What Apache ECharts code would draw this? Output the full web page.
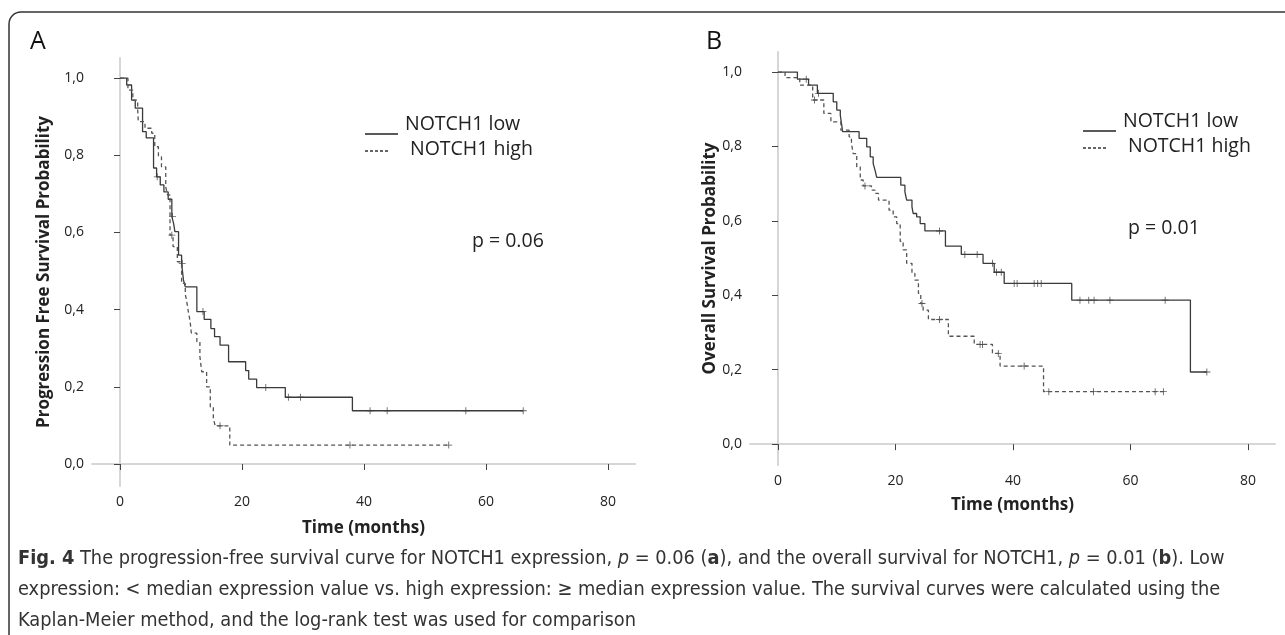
<!DOCTYPE html>
<html>
<head>
<meta charset="utf-8">
<title>NOTCH1 survival curves</title>
<script src="https://cdn.jsdelivr.net/npm/echarts@6/dist/echarts.min.js"></script>
<style>
  html, body { margin: 0; padding: 0; background: #fff; }
  #chart { width: 1285px; height: 635px; }
</style>
</head>
<body>
<div id="chart"></div>
<script>
// Kaplan-Meier steps: [months, survival after the event]
var lowA = [[0,1.000],[1.1,0.982],[1.9,0.943],[2.5,0.922],[3.7,0.861],[4.3,0.845],[5.5,0.767],[6.0,0.744],
  [6.6,0.723],[7.2,0.705],[7.9,0.686],[8.5,0.641],[8.8,0.622],[9.0,0.602],[9.6,0.541],[10.1,0.520],[10.4,0.477],
  [10.7,0.459],[12.6,0.395],[13.8,0.375],[14.9,0.351],[15.5,0.330],[16.4,0.308],[17.8,0.265],[20.6,0.242],
  [21.1,0.220],[22.4,0.198],[27.1,0.173],[38.1,0.138],[66.1,0.138]];
var highA = [[0,1.000],[1.3,0.969],[2.1,0.943],[2.9,0.917],[3.0,0.887],[4.1,0.870],[5.2,0.857],[5.7,0.822],
  [6.3,0.796],[6.8,0.770],[7.5,0.718],[7.8,0.697],[8.2,0.593],[8.7,0.563],[9.4,0.524],[10.1,0.468],[10.7,0.440],
  [10.9,0.425],[11.2,0.395],[11.5,0.369],[11.7,0.339],[12.6,0.317],[13.1,0.278],[13.4,0.239],[14.2,0.200],
  [14.8,0.148],[15.3,0.118],[15.6,0.099],[18.0,0.049],[53.9,0.049]];
var lowB = [[0,1.000],[3.3,0.981],[5.2,0.965],[6.7,0.943],[9.4,0.920],[10.0,0.898],[10.6,0.884],[10.8,0.862],
  [11.0,0.840],[13.8,0.822],[15.1,0.799],[15.7,0.772],[16.2,0.754],[16.5,0.737],[16.8,0.717],[20.9,0.696],
  [21.6,0.678],[21.9,0.656],[22.8,0.638],[23.0,0.620],[23.6,0.611],[24.2,0.593],[25.0,0.573],[28.5,0.532],
  [31.2,0.510],[34.9,0.486],[36.8,0.462],[38.5,0.432],[50.0,0.387],[70.2,0.194],[73.0,0.194]];
var highB = [[0,1.000],[1.2,0.985],[3.7,0.965],[5.9,0.925],[7.8,0.889],[9.0,0.866],[10.7,0.844],[12.1,0.826],
  [12.5,0.808],[12.8,0.781],[13.4,0.745],[14.0,0.710],[14.5,0.694],[15.9,0.683],[16.5,0.674],[17.1,0.656],
  [18.9,0.629],[19.6,0.611],[20.2,0.593],[20.8,0.545],[21.3,0.522],[21.9,0.486],[22.8,0.459],[23.3,0.441],
  [23.9,0.405],[24.3,0.378],[24.7,0.360],[25.6,0.335],[29.0,0.290],[33.4,0.268],[36.5,0.244],[37.8,0.210],
  [45.2,0.141],[65.6,0.141]];

// censored cases (months)
var censorLowA = [6.1, 8.6, 10.2, 13.6, 23.9, 27.6, 29.6, 41.0, 43.8, 56.7, 66.1];
var censorHighA = [8.5, 16.4, 37.7, 53.9];
var censorLowB = [4.8, 6.9, 27.5, 31.8, 33.9, 36.5, 37.2, 38.0, 40.2, 40.7, 43.6, 44.2, 44.8, 51.4, 52.9, 53.8, 56.5, 65.9, 73.0];
var censorHighB = [6.2, 14.8, 24.5, 27.5, 34.4, 34.8, 37.5, 41.9, 46.1, 53.7, 64.2, 65.6];

var xTicks = [0, 20, 40, 60, 80];
var yTicks = [0, 0.2, 0.4, 0.6, 0.8, 1.0];
var seriesNames = ['NOTCH1 low', 'NOTCH1 high'];
var pTexts = ['p = 0.06', 'p = 0.01'];
var yNames = ['Progression Free Survival Probability', 'Overall Survival Probability'];
var xName = 'Time (months)';

// survival value on the curve at a censor time
function kmAt(curve, t) {
  var s = curve[0][1];
  for (var i = 0; i < curve.length; i++) {
    if (curve[i][0] <= t) s = curve[i][1];
  }
  return s;
}
function marks(curve, times) {
  return times.map(function (t) { return [t, kmAt(curve, t)]; });
}

var FONT = '"Open Sans", "Noto Sans", sans-serif';
var plus = 'path://M0,4.4H10V5.6H0Z M4.4,0H5.6V10H4.4Z';

function xAxisFor(i, min, max, gap) {
  return {
    type: 'value', gridIndex: i, min: min, max: max,
    name: xName, nameLocation: 'middle', nameGap: gap,
    nameTextStyle: { fontFamily: FONT, fontSize: 17, fontWeight: 'bold', color: '#222' },
    axisLine: { lineStyle: { color: '#d6d6d6', width: 2 } },
    axisTick: { customValues: xTicks, length: 6, lineStyle: { color: '#444', width: 1 } },
    axisLabel: { customValues: xTicks, margin: 9, fontFamily: FONT, fontSize: 14, color: '#222' },
    splitLine: { show: false }
  };
}
function yAxisFor(i, min, max, gap) {
  return {
    type: 'value', gridIndex: i, min: min, max: max,
    name: yNames[i], nameLocation: 'middle', nameGap: gap, nameRotate: 90,
    nameTextStyle: { fontFamily: FONT, fontSize: 17, fontWeight: 'bold', color: '#222' },
    axisLine: { show: true, lineStyle: { color: '#d6d6d6', width: 2 } },
    axisTick: { show: true, customValues: yTicks, length: 6, lineStyle: { color: '#444', width: 1 } },
    axisLabel: {
      customValues: yTicks, margin: 8, fontFamily: FONT, fontSize: 14, color: '#222',
      formatter: function (v) { return v.toFixed(1).replace('.', ','); }
    },
    splitLine: { show: false }
  };
}
function kmLine(name, i, data, dashed) {
  return {
    name: name, type: 'line', xAxisIndex: i, yAxisIndex: i, data: data,
    step: 'end', symbol: 'none', silent: true,
    lineStyle: { color: dashed ? '#555' : '#3a3a3a', width: 1.3, type: dashed ? [4, 3] : 'solid' }
  };
}
function censorSeries(name, i, data) {
  return {
    name: name, type: 'scatter', xAxisIndex: i, yAxisIndex: i, data: data,
    symbol: plus, symbolSize: 7, silent: true,
    itemStyle: { color: '#333' }
  };
}
function legendBlock(x, y, pX, pY, pText) {
  var f = '19.5px ' + FONT;
  return [
    { type: 'line', shape: { x1: x, y1: y + 10, x2: x + 33, y2: y + 10 }, style: { stroke: '#222', lineWidth: 1.5 } },
    { type: 'text', x: x + 40, y: y, style: { text: seriesNames[0], font: f, fill: '#222', verticalAlign: 'middle' } },
    { type: 'line', shape: { x1: x, y1: y + 27, x2: x + 25, y2: y + 27 }, style: { stroke: '#333', lineWidth: 1.3, lineDash: [3, 2] } },
    { type: 'text', x: x + 45, y: y + 25, style: { text: seriesNames[1], font: f, fill: '#222', verticalAlign: 'middle' } },
    { type: 'text', x: pX, y: pY, style: { text: pText, font: f, fill: '#222', verticalAlign: 'middle' } }
  ];
}

var capFont = '"Liberation Sans Narrow", "DejaVu Sans Condensed", sans-serif';
var capSize = 19.8;
var capRich = {
  b: { fontFamily: capFont, fontSize: capSize, fontWeight: 'bold', fill: '#333' },
  i: { fontFamily: capFont, fontSize: capSize, fontStyle: 'italic', fill: '#333' },
  n: { fontFamily: capFont, fontSize: capSize, fill: '#333' }
};
var captionLines = [
  '{b|Fig. 4}{n| The progression-free survival curve for NOTCH1 expression, }{i|p}{n| = 0.06 (}{b|a}{n|), and the overall survival for NOTCH1, }{i|p}{n| = 0.01 (}{b|b}{n|). Low}',
  '{n|expression: < median expression value vs. high expression: \u2265 median expression value. The survival curves were calculated using the}',
  '{n|Kaplan-Meier method, and the log-rank test was used for comparison}'
];

var chart = echarts.init(document.getElementById('chart'), null, { renderer: 'canvas' });

var graphics = [
  { type: 'rect', shape: { x: 9, y: 12, width: 1400, height: 700, r: 12 }, style: { fill: 'none', stroke: '#333', lineWidth: 1.5 } },
  { type: 'text', x: 38, y: 42, style: { text: 'A', font: '25px ' + FONT, fill: '#111', align: 'center', verticalAlign: 'middle' } },
  { type: 'text', x: 714, y: 42, style: { text: 'B', font: '25px ' + FONT, fill: '#111', align: 'center', verticalAlign: 'middle' } }
].concat(legendBlock(365, 124, 472, 241, pTexts[0]))
 .concat(legendBlock(1083, 121, 1128, 228, pTexts[1]));

captionLines.forEach(function (line, k) {
  graphics.push({ type: 'text', x: 18, y: 559 + k * 31, style: { text: line, rich: capRich, fill: '#333', verticalAlign: 'middle' } });
});

chart.setOption({
  animation: false,
  grid: [
    { left: 92, top: 58, width: 543, height: 428 },
    { left: 750, top: 52, width: 525, height: 413 }
  ],
  xAxis: [xAxisFor(0, -4.59, 84.43, 34), xAxisFor(1, -4.77, 84.6, 32)],
  yAxis: [yAxisFor(0, -0.057, 1.052, 39), yAxisFor(1, -0.056, 1.054, 26)],
  series: [
    kmLine(seriesNames[0], 0, lowA, false),
    kmLine(seriesNames[1], 0, highA, true),
    censorSeries(seriesNames[0], 0, marks(lowA, censorLowA)),
    censorSeries(seriesNames[1], 0, marks(highA, censorHighA)),
    kmLine(seriesNames[0], 1, lowB, false),
    kmLine(seriesNames[1], 1, highB, true),
    censorSeries(seriesNames[0], 1, marks(lowB, censorLowB)),
    censorSeries(seriesNames[1], 1, marks(highB, censorHighB))
  ],
  graphic: graphics
});
</script>
</body>
</html>
